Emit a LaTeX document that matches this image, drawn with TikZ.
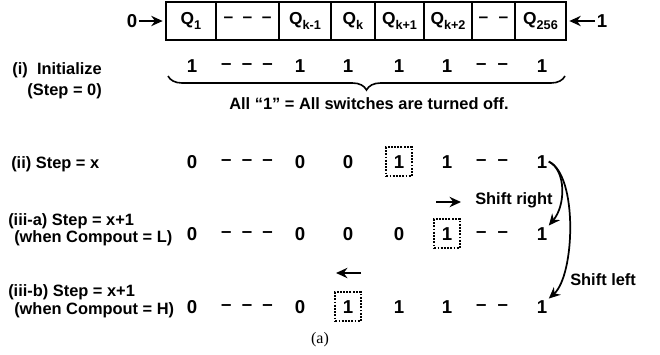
\documentclass[tikz,border=0pt]{standalone}
\usepackage{fontspec}
\setmainfont{Liberation Sans}
\newfontfamily\capfont{Liberation Serif}
\usetikzlibrary{arrows.meta,positioning,decorations.pathreplacing}
\newcommand{\qsub}[1]{\raisebox{-0.45ex}{\fontsize{9.5}{10}\selectfont #1}}
\newcommand{\dashthree}{\raisebox{0.12em}{\textendash\hspace{0.55em}\textendash\hspace{0.55em}\textendash}}
\newcommand{\dashtwo}{\raisebox{0.12em}{\textendash\hspace{0.6em}\textendash}}
\tikzset{
  >={Stealth[length=3mm,width=2.7mm]},
  cell/.style={draw,line width=1.2pt,outer sep=0pt,inner sep=0pt,minimum height=28.5pt,font=\bfseries\fontsize{13}{14}\selectfont},
  val/.style={inner sep=1pt,font=\bfseries\fontsize{14}{15}\selectfont},
  hot/.style={val,draw,densely dotted,line width=1.4pt,minimum width=19pt,minimum height=22pt},
  lab/.style={font=\bfseries\fontsize{12.3}{13}\selectfont,inner sep=0pt},
  arr/.style={->,line width=1.8pt},
  carr/.style={->,line width=1.3pt},
}

\begin{document}
\begin{tikzpicture}[x=0.75pt,y=-0.75pt]
\useasboundingbox (0,0) rectangle (660,354);
% shift register
\node[cell,minimum width=37.5pt] (q1) at (191,21) {Q\qsub{1}};
\node[cell,minimum width=47.25pt,right=0pt of q1] (qa) {\dashthree};
\node[cell,minimum width=39pt,right=0pt of qa] (qkm) {Q\qsub{k-1}};
\node[cell,minimum width=33pt,right=0pt of qkm] (qk) {Q\qsub{k}};
\node[cell,minimum width=36.75pt,right=0pt of qk] (qkp) {Q\qsub{k+1}};
\node[cell,minimum width=36pt,right=0pt of qkp] (qkpp) {Q\qsub{k+2}};
\node[cell,minimum width=32.25pt,right=0pt of qkpp] (qb) {\dashtwo};
\node[cell,minimum width=38.25pt,right=0pt of qb] (q256) {Q\qsub{256}};
\node[val] (in0) at (132,21) {0};
\node[val] (in1) at (602,21) {1};
\draw[arr,shorten >=2.5pt] (in0) -- (q1);
\draw[arr,shorten >=2.5pt] (in1) -- (q256);

% step labels
\node[lab,align=right,anchor=east] (li) at (102,81) {(i)\ \ Initialize\\[2.75pt](Step = 0)};
\node[lab,anchor=west] (lii) at (11,164) {(ii) Step = x};
\node[lab,align=left,anchor=west] (lia) at (8,230) {(iii-a) Step = x+1\\\hspace*{4.5pt}(when Compout = L)};
\node[lab,align=left,anchor=west] (lib) at (8,301) {(iii-b) Step = x+1\\[0.5pt]\hspace*{4.5pt}(when Compout = H)};

% rows
\foreach \x/\v [count=\i] in {192/1,247/\dashthree,300/1,348/1,399/1,447/1,492/\dashtwo,542/1}
  \node[val,anchor=base] (ri\i) at (\x,72) {\v};
\foreach \x/\v/\s [count=\i] in {192/0/val,247/\dashthree/val,300/0/val,348/0/val,399/1/hot,447/1/val,492/\dashtwo/val,542/1/val}
  \node[\s,anchor=base] (rii\i) at (\x,168) {\v};
\foreach \x/\v/\s [count=\i] in {192/0/val,247/\dashthree/val,300/0/val,348/0/val,399/0/val,447/1/hot,492/\dashtwo/val,542/1/val}
  \node[\s,anchor=base] (ria\i) at (\x,240) {\v};
\foreach \x/\v/\s [count=\i] in {192/0/val,247/\dashthree/val,300/0/val,348/1/hot,399/1/val,447/1/val,492/\dashtwo/val,542/1/val}
  \node[\s,anchor=base] (rib\i) at (\x,313) {\v};

% brace
\coordinate (bl) at (168,76);
\coordinate (br) at (565,76);
\draw[decorate,decoration={brace,mirror,amplitude=10.5pt},line width=1.2pt] (bl) -- (br);
\node[lab] (note) at (369,104) {All “1” = All switches are turned off.};

% shifts
\coordinate (sr0) at (436,202);
\coordinate (sr1) at (461,202);
\draw[arr] (sr0) -- (sr1);
\node[lab,anchor=west] (srlab) at (475,200) {Shift right};
\coordinate (sl0) at (361,273);
\coordinate (sl1) at (336,273);
\draw[arr] (sl0) -- (sl1);
\draw[carr] (rii8.east) .. controls (566,170) and (566,205) .. (ria8.north east);
\draw[carr] (rii8.east) .. controls (578,175) and (575,275) .. (rib8.north east);
\node[lab,anchor=west] (sllab) at (570,280) {Shift left};

\node[font=\capfont\fontsize{12}{14}\selectfont] (cap) at (320,340) {(a)};
\end{tikzpicture}
\end{document}
